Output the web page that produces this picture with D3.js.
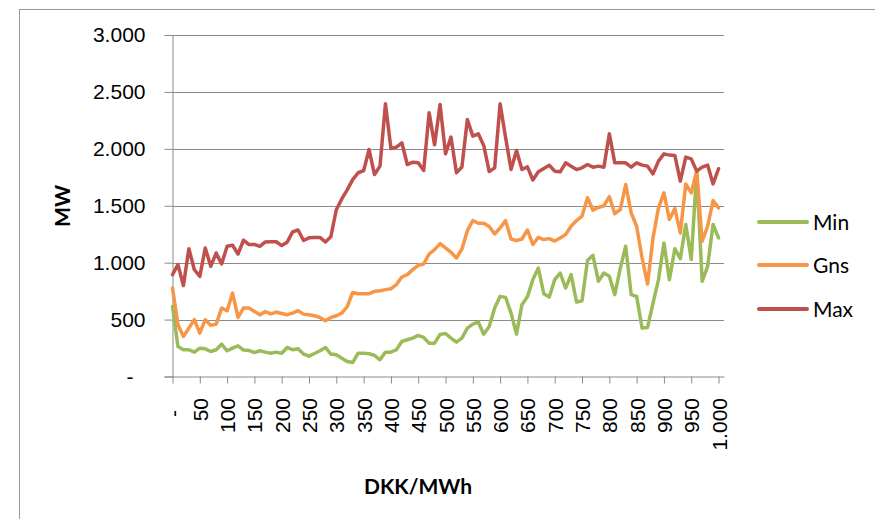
<!DOCTYPE html>
<html>
<head>
<meta charset="utf-8">
<script src="https://cdn.jsdelivr.net/npm/d3@7"></script>
<style>
  html, body { margin: 0; padding: 0; background: #ffffff; }
  svg { display: block; font-family: Lato, "Open Sans", "Liberation Sans", sans-serif; }
</style>
</head>
<body>
<svg id="chart" width="875" height="519"></svg>
<script>
// Price steps (DKK/MWh), one observation every 10 DKK
const prices = d3.range(0, 1001, 10);

// Series values in MW
const minValues = [
  616, 264, 235, 235, 214, 249, 243, 220, 235, 284,
  226, 249, 270, 232, 229, 210, 226, 214, 205, 214,
  205, 255, 235, 243, 197, 179, 202, 226, 255, 197,
  191, 161, 132, 123, 205, 205, 200, 185, 147, 214,
  214, 235, 308, 323, 337, 361, 343, 293, 293, 370,
  378, 337, 302, 337, 425, 460, 478, 372, 440, 601,
  704, 695, 557, 372, 631, 700, 851, 953, 727, 698,
  851, 909, 777, 895, 654, 666, 1018, 1065, 836, 909,
  880, 719, 950, 1144, 719, 704, 425, 431, 645, 851,
  1173, 851, 1123, 1035, 1335, 1027, 1798, 836, 968, 1335,
  1217
];
const gnsValues = [
  777, 455, 352, 425, 499, 381, 499, 449, 460, 601,
  578, 733, 519, 601, 601, 572, 543, 570, 550, 566,
  554, 543, 557, 578, 548, 543, 534, 519, 490, 519,
  534, 557, 615, 738, 727, 727, 727, 748, 754, 763,
  771, 807, 874, 895, 939, 977, 988, 1076, 1115, 1167,
  1129, 1091, 1041, 1120, 1281, 1369, 1346, 1346, 1317, 1252,
  1305, 1369, 1208, 1194, 1208, 1287, 1160, 1223, 1203, 1211,
  1190, 1217, 1247, 1320, 1370, 1408, 1570, 1460, 1485, 1500,
  1580, 1430, 1467, 1686, 1437, 1320, 1041, 812, 1217, 1481,
  1613, 1379, 1475, 1261, 1692, 1613, 1804, 1188, 1320, 1546,
  1481
];
const maxValues = [
  895, 983, 800, 1123, 938, 880, 1129, 968, 1085, 988,
  1144, 1153, 1076, 1197, 1159, 1160, 1143, 1182, 1184, 1184,
  1150, 1180, 1270, 1287, 1195, 1218, 1222, 1222, 1182, 1228,
  1465, 1560, 1640, 1730, 1790, 1808, 1994, 1774, 1848, 2396,
  2003, 2015, 2053, 1862, 1883, 1877, 1810, 2317, 2035, 2390,
  1956, 2103, 1789, 1840, 2258, 2112, 2132, 2030, 1800, 1833,
  2396, 2100, 1818, 1986, 1818, 1842, 1726, 1798, 1827, 1856,
  1804, 1798, 1877, 1848, 1818, 1833, 1862, 1839, 1848, 1839,
  2132, 1877, 1877, 1877, 1839, 1877, 1857, 1848, 1780, 1892,
  1956, 1945, 1942, 1716, 1927, 1912, 1804, 1839, 1857, 1692,
  1825
];

const seriesNames = ["Min", "Gns", "Max"];
const seriesColors = ["#9BBB59", "#F79646", "#C0504D"];
const xTicks = d3.range(0, 1001, 50);
const yTicks = d3.range(0, 3001, 500);
const xTitle = "DKK/MWh";
const yTitle = "MW";

const series = [minValues, gnsValues, maxValues].map((vals, k) => ({
  name: seriesNames[k],
  color: seriesColors[k],
  points: prices.map((p, i) => ({ x: p, y: vals[i] }))
}));

// Danish number formatting: "." as thousands separator, "-" for zero
const locale = d3.formatLocale({ decimal: ",", thousands: ".", grouping: [3], currency: ["", " kr."] });
const fmt = locale.format(",d");
const label = v => (v === 0 ? "-" : fmt(v));

const svg = d3.select("#chart");
const W = 875, H = 519;
const plot = { left: 172.5, right: 724, top: 35, bottom: 376.5 };

const x = d3.scaleLinear().domain([0, 1010]).range([plot.left, plot.right]);
const y = d3.scaleLinear().domain([0, 3000]).range([plot.bottom, plot.top]);

const grey = "#8a8a8a";
const fontSize = 21;

// Chart area border
svg.append("rect")
  .attr("x", 19.5).attr("y", 9.5)
  .attr("width", W + 20).attr("height", H + 20)
  .attr("fill", "none").attr("stroke", "#9a9a9a").attr("stroke-width", 1);

// Horizontal gridlines
svg.append("g")
  .selectAll("line")
  .data(yTicks.filter(v => v > 0))
  .join("line")
  .attr("x1", plot.left).attr("x2", plot.right)
  .attr("y1", d => Math.round(y(d)) + 0.5).attr("y2", d => Math.round(y(d)) + 0.5)
  .attr("stroke", grey).attr("stroke-width", 1);

// Y axis
const yAxis = svg.append("g")
  .attr("transform", `translate(${plot.left},0)`)
  .call(d3.axisLeft(y).tickValues(yTicks).tickSize(8).tickPadding(19).tickFormat(label));
yAxis.select(".domain").attr("stroke", grey);
yAxis.selectAll(".tick line").attr("stroke", grey);
yAxis.selectAll(".tick text")
  .attr("fill", "#000")
  .style("font-size", fontSize + "px")
  .attr("dx", d => (d === 0 ? -12 : 0));

// X axis with rotated labels
const xAxis = svg.append("g")
  .attr("transform", `translate(0,${plot.bottom})`)
  .call(d3.axisBottom(x).tickValues(xTicks).tickSize(7).tickFormat(label).tickSizeOuter(0));
xAxis.select(".domain").attr("stroke", grey);
xAxis.selectAll(".tick line").attr("stroke", grey);
xAxis.selectAll(".tick text")
  .attr("fill", "#000")
  .style("font-size", fontSize + "px")
  .attr("transform", "rotate(-90)")
  .attr("text-anchor", "end")
  .attr("x", -21.5)
  .attr("y", 0)
  .attr("dy", "0.36em")
  .attr("dx", d => (d === 0 ? -12 : 0));

// Axis titles
svg.append("text")
  .attr("x", 418).attr("y", 494)
  .attr("text-anchor", "middle")
  .style("font-size", "21px").style("font-weight", "bold")
  .text(xTitle);

svg.append("text")
  .attr("transform", `translate(70,206) rotate(-90)`)
  .attr("text-anchor", "middle")
  .style("font-size", "21px").style("font-weight", "bold")
  .text(yTitle);

// Series lines
const line = d3.line().x(d => x(d.x)).y(d => y(d.y));
svg.append("g")
  .selectAll("path")
  .data(series)
  .join("path")
  .attr("d", d => line(d.points))
  .attr("fill", "none")
  .attr("stroke", d => d.color)
  .attr("stroke-width", 3.5)
  .attr("stroke-linejoin", "round")
  .attr("stroke-linecap", "round");

// Legend
const legendY = [222, 265, 309];
const legend = svg.append("g")
  .selectAll("g")
  .data(series)
  .join("g")
  .attr("transform", (d, i) => `translate(759,${legendY[i]})`);
legend.append("line")
  .attr("x1", 0).attr("x2", 48)
  .attr("stroke", d => d.color).attr("stroke-width", 4)
  .attr("stroke-linecap", "round");
legend.append("text")
  .attr("x", 54).attr("dy", "0.36em")
  .style("font-size", fontSize + "px")
  .text(d => d.name);
</script>
</body>
</html>
